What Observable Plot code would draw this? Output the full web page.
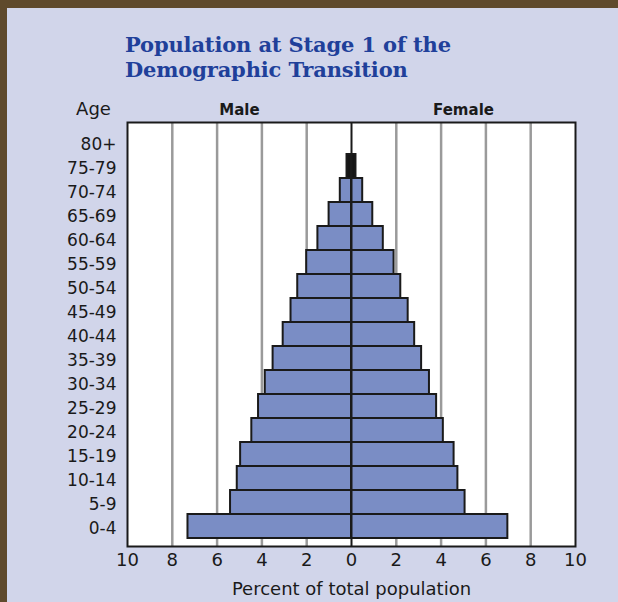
<!DOCTYPE html>
<html>
<head>
<meta charset="utf-8">
<script src="https://cdn.jsdelivr.net/npm/d3@7"></script>
<script src="https://cdn.jsdelivr.net/npm/@observablehq/plot@0.6"></script>
<style>
  html, body { margin: 0; padding: 0; }
  body { width: 618px; height: 602px; background: #5f4a2c; position: relative; overflow: hidden; }
  #panel { position: absolute; left: 7px; top: 8px; width: 611px; height: 594px; background: #d1d5ea; }
  #title { position: absolute; left: 118px; top: 24px; font-family: "DejaVu Serif", serif;
           font-weight: bold; font-size: 21px; line-height: 25px; color: #20409a; letter-spacing: -0.15px; }
  #chart { position: absolute; left: 0px; top: 82px; }
</style>
</head>
<body>
<div id="panel">
  <div id="title">Population at Stage 1 of the<br>Demographic Transition</div>
  <div id="chart"></div>
</div>
<script>
const ages = ["80+","75-79","70-74","65-69","60-64","55-59","50-54","45-49","40-44","35-39","30-34","25-29","20-24","15-19","10-14","5-9","0-4"];
const male = [0, 0.2, 0.5, 1.0, 1.5, 2.0, 2.4, 2.7, 3.05, 3.5, 3.85, 4.15, 4.45, 4.95, 5.1, 5.4, 7.3];
const female = [0, 0.2, 0.5, 0.95, 1.42, 1.9, 2.2, 2.53, 2.82, 3.13, 3.48, 3.8, 4.1, 4.58, 4.75, 5.07, 6.98];
const xTicks = [-10, -8, -6, -4, -2, 0, 2, 4, 6, 8, 10];
const gridTicks = [-8, -6, -4, -2, 2, 4, 6, 8];
const sexLabels = [{sex: "Male", x: -5}, {sex: "Female", x: 5}];

const rows = [];
ages.forEach((a, i) => {
  rows.push({age: a, sex: "Male", x1: -male[i], x2: 0});
  rows.push({age: a, sex: "Female", x1: 0, x2: female[i]});
});

const barFill = d => d.age === "75-79" ? "#151515" : "#7a8dc5";
const font = '"DejaVu Sans", sans-serif';

const chart = Plot.plot({
  width: 611,
  height: 512,
  marginLeft: 120,
  marginRight: 43,
  marginTop: 32,
  marginBottom: 56,
  style: {background: "transparent", fontFamily: font, fontSize: "18px", color: "#1a1a1a", overflow: "visible"},
  x: {domain: [-10, 10]},
  y: {domain: ages, padding: 0},
  marks: [
    Plot.frame({fill: "white", stroke: "none"}),
    Plot.ruleX(gridTicks, {stroke: "#9a9a9a", strokeWidth: 2.5}),
    Plot.barX(rows, {y: "age", x1: "x1", x2: "x2", fill: barFill, stroke: "#1a1a1a", strokeWidth: 2}),
    Plot.ruleX([0], {stroke: "#1a1a1a", strokeWidth: 2}),
    Plot.frame({stroke: "#1a1a1a", strokeWidth: 2}),
    Plot.axisX({ticks: xTicks, tickFormat: d => Math.abs(d), tickSize: 0, tickPadding: 7, fontSize: 18,
                label: "Percent of total population", labelAnchor: "center", labelOffset: 48, labelArrow: "none"}),
    Plot.axisY({tickSize: 0, tickPadding: 11, fontSize: 17, dy: 2, label: null}),
    Plot.text(sexLabels, {x: "x", text: "sex", frameAnchor: "top", lineAnchor: "bottom", dy: -8,
                          fontWeight: "bold", fontSize: 15}),
    Plot.text(["Age"], {text: d => d, frameAnchor: "top-left", textAnchor: "middle", lineAnchor: "bottom",
                        dx: -34, dy: -8, fontSize: 18})
  ]
});
document.getElementById("chart").appendChild(chart);
</script>
</body>
</html>
